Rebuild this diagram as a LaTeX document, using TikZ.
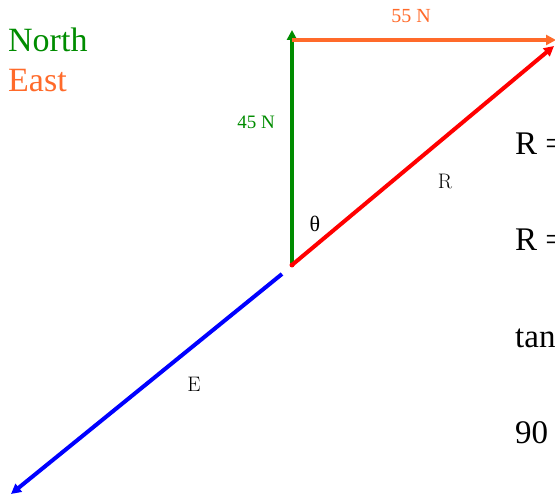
\documentclass[tikz,border=0pt]{standalone}
\usepackage{fontspec}
\usetikzlibrary{arrows.meta}
\newfontfamily\timesfont{Liberation Serif}
\definecolor{northc}{HTML}{008C00}
\definecolor{eastc}{HTML}{FF6A2A}
\definecolor{resc}{HTML}{FF0000}
\definecolor{ec}{HTML}{0000FF}

\begin{document}
\begin{tikzpicture}[x=1pt,y=-1pt,
    vec/.style={line width=4pt,-{Triangle[length=10pt,width=10pt]}},
    lab/.style={inner sep=0pt}]
    \useasboundingbox (0,0) rectangle (555,500);
    \clip (0,0) rectangle (555,500);
    % legend
    \node[lab,anchor=base west,text=northc,font=\timesfont\fontsize{34}{40}\selectfont] (north) at (8,52) {North};
    \node[lab,anchor=base west,text=eastc,font=\timesfont\fontsize{34}{40}\selectfont] (east) at (8,92) {East};
    % vectors
    \coordinate (O) at (292,265);
    \coordinate (Ntip) at (292,30);
    \coordinate (Ebeg) at (292,40);
    \coordinate (Etip) at (556,40);
    \coordinate (Rtip) at (554,46);
    \coordinate (Bbeg) at (282,274);
    \coordinate (Btip) at (11,494);
    \draw[vec,northc] (O) -- (Ntip);
    \draw[vec,eastc] (Ebeg) -- (Etip);
    \draw[vec,resc] (O) -- (Rtip);
    \fill[resc] (O) circle (2.5pt);
    \draw[vec,ec] (Bbeg) -- (Btip);
    % labels
    \node[lab,anchor=base,text=eastc,font=\timesfont\fontsize{20}{24}\selectfont] (l55) at (411,23) {55 N};
    \node[lab,anchor=base,text=northc,font=\timesfont\fontsize{19}{23}\selectfont] (l45) at (256,129) {45 N};
    \node[lab,font=\fontsize{21}{25}\selectfont] (lR) at (445,181) {R};
    \node[lab,font=\timesfont\fontsize{22}{26}\selectfont] (lth) at (315,224) {θ};
    \node[lab,font=\fontsize{21}{25}\selectfont] (lE) at (194,384) {E};
    % worked lines, cut by the frame
    \foreach \i/\txt in {0/{R =},1/{R =},2/tan,3/90} {
      \node[lab,anchor=base west,font=\timesfont\fontsize{33}{40}\selectfont] (eq\i) at (515,{155+96*\i}) {\txt};
    }
\end{tikzpicture}
\end{document}
